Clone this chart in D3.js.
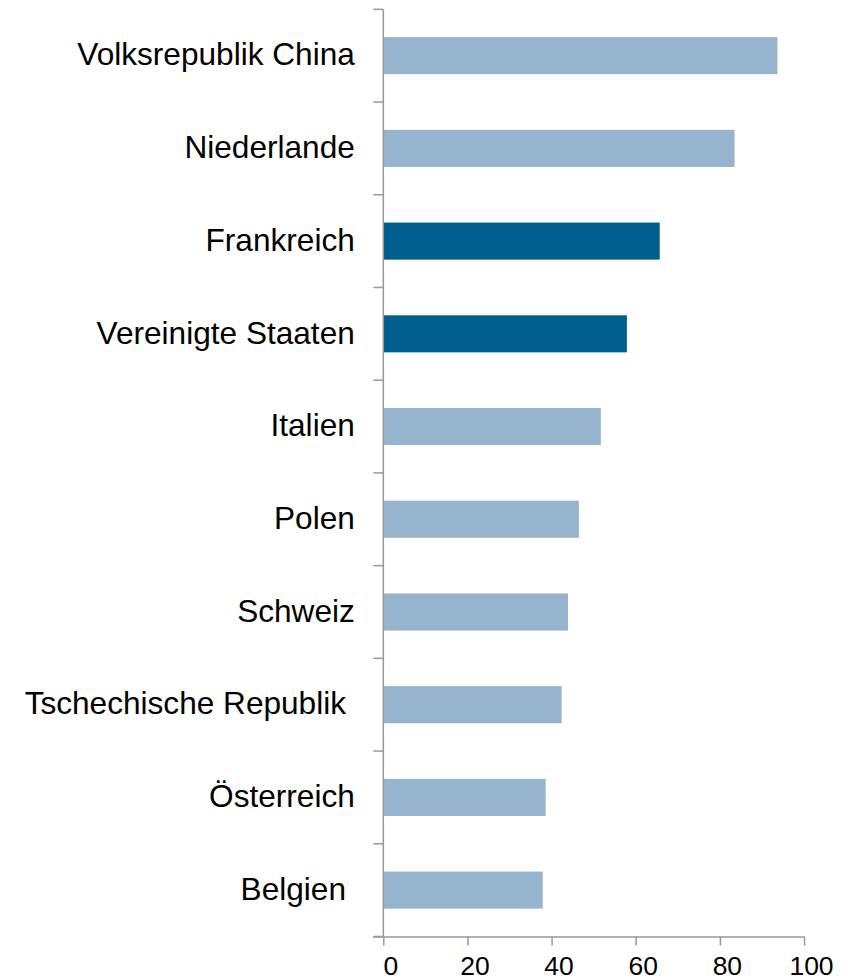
<!DOCTYPE html>
<html>
<head>
<meta charset="utf-8">
<script src="https://cdn.jsdelivr.net/npm/d3@7"></script>
<style>
  body { margin: 0; background: #fff; }
  text { font-family: "Liberation Sans", Arial, sans-serif; fill: #000; }
</style>
</head>
<body>
<div id="chart"></div>
<script>
// Countries, top to bottom (trailing spaces kept as in the original labels)
const countries = [
  "Volksrepublik China", "Niederlande", "Frankreich", "Vereinigte Staaten",
  "Italien", "Polen", "Schweiz", "Tschechische Republik ", "Österreich", "Belgien "
];
const values = [93.7, 83.5, 65.7, 57.9, 51.7, 46.5, 43.9, 42.4, 38.6, 37.9];
const highlighted = ["Frankreich", "Vereinigte Staaten"];
const xTicks = [0, 20, 40, 60, 80, 100];

const width = 850, height = 980;
const margin = { top: 9.3, right: 46, bottom: 43.5, left: 383.3 };

const svg = d3.select("#chart").append("svg")
  .attr("width", width)
  .attr("height", height);

const x = d3.scaleLinear()
  .domain([0, 100])
  .range([margin.left, width - margin.right]);

const y = d3.scaleBand()
  .domain(countries)
  .range([margin.top, height - margin.bottom])
  .paddingInner(0.6)
  .paddingOuter(0.3);

// Bars
svg.append("g")
  .selectAll("rect")
  .data(countries)
  .join("rect")
  .attr("x", x(0))
  .attr("y", d => y(d))
  .attr("width", (d, i) => x(values[i]) - x(0))
  .attr("height", y.bandwidth())
  .attr("fill", d => highlighted.includes(d) ? "#005F8F" : "#96B4CD");

// Y axis: line with ticks between categories
const yAxis = svg.append("g");
const step = y.step();
const bounds = d3.range(countries.length + 1).map(i => margin.top + i * step);
yAxis.append("line")
  .attr("x1", x(0)).attr("x2", x(0))
  .attr("y1", margin.top).attr("y2", height - margin.bottom)
  .attr("stroke", "#999").attr("stroke-width", 1.5);
yAxis.selectAll("line.tick")
  .data(bounds)
  .join("line")
  .attr("class", "tick")
  .attr("x1", x(0) - 10).attr("x2", x(0))
  .attr("y1", d => d).attr("y2", d => d)
  .attr("stroke", "#999").attr("stroke-width", 1.5);
yAxis.selectAll("text")
  .data(countries)
  .join("text")
  .attr("x", x(0) - 28.5)
  .attr("y", d => y(d) + y.bandwidth() / 2)
  .attr("dy", "0.31em")
  .attr("text-anchor", "end")
  .style("white-space", "pre")
  .style("font-size", "31.6px")
  .text(d => d);

// X axis
const xAxis = d3.axisBottom(x)
  .tickValues(xTicks)
  .tickSize(9)
  .tickSizeOuter(0)
  .tickPadding(11);

const gx = svg.append("g")
  .attr("transform", `translate(0,${height - margin.bottom})`)
  .call(xAxis);
gx.select(".domain")
  .attr("d", `M${x(0) - 10},0.5H${x(100)}`)
  .attr("stroke", "#999").attr("stroke-width", 1.5);
gx.selectAll(".tick line").attr("stroke", "#999").attr("stroke-width", 1.5);
gx.selectAll(".tick text")
  .attr("dx", 7)
  .style("font-size", "26.5px")
  .style("font-family", "'Liberation Sans', Arial, sans-serif")
  .attr("fill", "#000");
</script>
</body>
</html>
